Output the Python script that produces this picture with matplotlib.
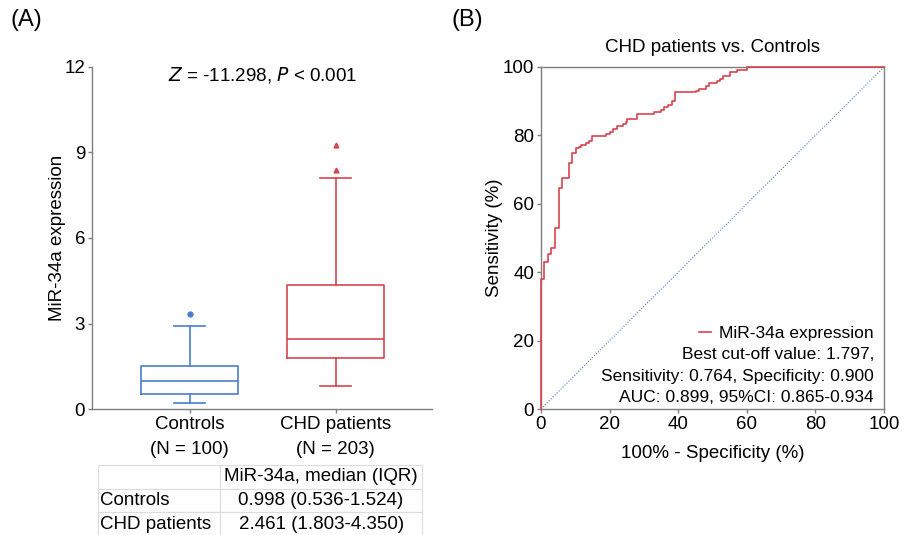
import matplotlib
matplotlib.use("Agg")
import matplotlib.pyplot as plt

plt.rcParams['font.family'] = ['Liberation Sans', 'DejaVu Sans']
plt.rcParams['font.size'] = 13.5

# ---- data ----
groups = ["Controls\n(N = 100)", "CHD patients\n(N = 203)"]
medians = [0.998, 2.461]
q1s = [0.536, 1.803]
q3s = [1.524, 4.350]
whisker_lo = [0.21, 0.81]
whisker_hi = [2.93, 8.09]
fliers = [[3.35], [8.38, 9.25]]

table_rows = ["Controls", "CHD patients"]
table_header = "MiR-34a, median (IQR)"
table_vals = ["0.998 (0.536-1.524)", "2.461 (1.803-4.350)"]

# ROC step points: false positive rate (%) where sensitivity jumps, level after jump
roc_fpr = [0, 0, 1.0, 2.0, 3.0, 4.2, 5.2, 6.1, 8.2, 9.1, 10.1, 11.0, 11.8, 13.0, 14.0,
           15.0, 19.0, 20.0, 21.0, 22.2, 23.9, 24.9, 25.2, 28.1, 33.0, 35.0, 36.0,
           37.1, 38.1, 39.1, 45.1, 46.1, 48.0, 49.0, 51.2, 52.2, 53.2, 55.1, 57.1,
           60.0, 100]
roc_tpr = [0, 38.0, 43.0, 45.3, 47.0, 52.8, 64.5, 67.5, 71.8, 74.8, 76.2, 76.7, 77.2,
           77.7, 78.4, 79.8, 80.4, 81.1, 81.8, 82.7, 83.3, 84.0, 84.8, 86.2, 86.8,
           87.4, 88.2, 88.9, 90.1, 92.6, 93.1, 93.6, 94.5, 95.4, 96.0, 96.6, 97.5,
           98.6, 99.1, 100, 100]

blue = "#4a7fd0"
red = "#d9444f"
spine_c = "#7f7f7f"

fig = plt.figure(figsize=(9.12, 5.35), dpi=100)

# ---- panel A: box plot ----
axA = fig.add_axes([0.1009, 0.235, 0.3728, 0.6406])
stats = []
for i in range(2):
    stats.append(dict(med=medians[i], q1=q1s[i], q3=q3s[i],
                      whislo=whisker_lo[i], whishi=whisker_hi[i], fliers=fliers[i]))
colors = [blue, red]
markers = ['o', '^']
for i, st in enumerate(stats):
    c = colors[i]
    axA.bxp([st], positions=[i + 1], widths=0.665, showfliers=True,
            boxprops=dict(color=c, linewidth=1.2),
            medianprops=dict(color=c, linewidth=1.2),
            whiskerprops=dict(color=c, linewidth=1.2),
            capprops=dict(color=c, linewidth=1.2),
            capwidths=0.21,
            flierprops=dict(marker=markers[i], markersize=3.5, markerfacecolor=c,
                            markeredgecolor=c))
axA.set_xlim(0.33, 2.66)
axA.set_ylim(0, 12)
axA.set_yticks([0, 3, 6, 9, 12])
axA.set_xticks([1, 2])
axA.set_xticklabels(groups, linespacing=1.6)
axA.set_ylabel("MiR-34a expression", labelpad=-1)
for s in ['top', 'right']:
    axA.spines[s].set_visible(False)
for s in ['left', 'bottom']:
    axA.spines[s].set_color(spine_c)
    axA.spines[s].set_linewidth(1.0)
axA.tick_params(colors=spine_c, labelcolor='black', length=3, width=1.0, pad=2)
axA.text(0.503, 0.975, r"$\it{Z}$ = -11.298, $\it{P}$ < 0.001",
         transform=axA.transAxes, ha='center', va='center', fontsize=13.5)

fig.text(0.012, 0.962, "(A)", fontsize=17, ha='left', va='center')
fig.text(0.495, 0.962, "(B)", fontsize=17, ha='left', va='center')

# ---- table ----
axT = fig.add_axes([0.1075, -0.002, 0.3553, 0.1327])
axT.axis('off')
cells = [["", table_header]] + [[table_rows[i], table_vals[i]] for i in range(2)]
tbl = axT.table(cellText=cells, bbox=[0, 0, 1, 1], colWidths=[122 / 324, 202 / 324],
                cellLoc='center')
tbl.auto_set_font_size(False)
tbl.set_fontsize(13.5)
for (r, c), cell in tbl.get_celld().items():
    cell.set_edgecolor("#dcdcdc")
    cell.set_linewidth(0.8)
    if c == 0:
        cell.set_text_props(ha='left')
        cell.PAD = 0.02

# ---- panel B: ROC ----
axB = fig.add_axes([0.5932, 0.2355, 0.3761, 0.6393])
axB.plot([0, 100], [0, 100], linestyle=(0, (1, 1.5)), color=blue, linewidth=0.8)
axB.step(roc_fpr, roc_tpr, where='post', color=red, linewidth=1.2,
         label="MiR-34a expression", zorder=3, clip_on=False)
axB.set_xlim(0, 100)
axB.set_ylim(0, 100)
axB.set_xticks(range(0, 101, 20))
axB.set_yticks(range(0, 101, 20))
axB.set_xlabel("100% - Specificity (%)", labelpad=9)
axB.set_ylabel("Sensitivity (%)", labelpad=0)
axB.set_title("CHD patients vs. Controls", fontsize=13.5, pad=11)
for s in axB.spines.values():
    s.set_color(spine_c)
    s.set_linewidth(1.0)
axB.tick_params(colors=spine_c, labelcolor='black', length=3, width=1.0, pad=2)
axB.legend(loc='center right', bbox_to_anchor=(0.971, 0.222), frameon=False,
           fontsize=12.5, handlelength=0.7, handletextpad=0.5, borderpad=0,
           borderaxespad=0)
axB.text(0.971, 0.096,
         "Best cut-off value: 1.797,\nSensitivity: 0.764, Specificity: 0.900\n"
         "AUC: 0.899, 95%CI: 0.865-0.934",
         transform=axB.transAxes, ha='right', va='center', fontsize=12.5,
         linespacing=1.55)

fig.savefig("out.png", dpi=100)
